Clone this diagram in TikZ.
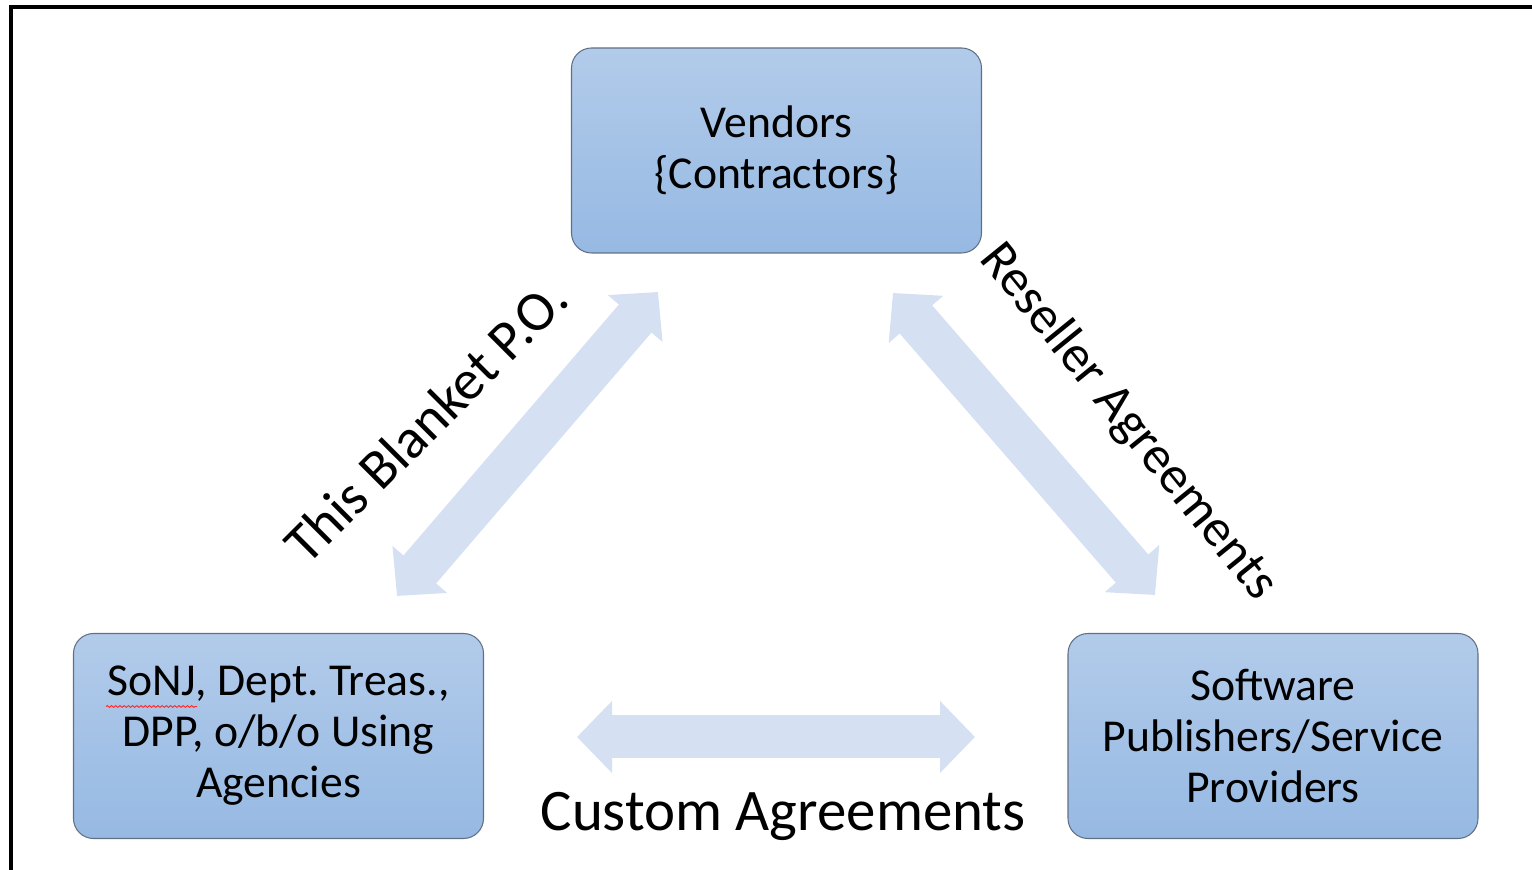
\documentclass[tikz,border=0pt]{standalone}
\usepackage{fontspec}
\setmainfont{Carlito}
\frenchspacing
\usetikzlibrary{arrows.meta,decorations.pathmorphing}

\definecolor{boxtop}{RGB}{178,203,234}
\definecolor{boxbot}{RGB}{150,185,227}
\definecolor{boxline}{RGB}{98,112,132}
\definecolor{flow}{RGB}{213,225,242}

\tikzset{
  party/.style={rectangle, rounded corners=0.4cm, draw=boxline, line width=0.6pt,
    top color=boxtop, bottom color=boxbot, minimum width=8.2cm, minimum height=4.1cm,
    align=center, font=\fontsize{26}{29}\selectfont},
  flowarrow/.style={flow, line width=0.86cm,
    {Triangle[length=7mm 0, width=14mm 0]}-{Triangle[length=7mm 0, width=14mm 0]}},
  deal/.style={font=\fontsize{32}{36}\selectfont}
}

\begin{document}
\begin{tikzpicture}
			\useasboundingbox (0, 0) rectangle (30.64, 17.4);
			\draw [black, line width=2.2pt] (0.22, -1) -- (0.22, 17.26) -- (31, 17.26);

			\node [party] (vendors) at (15.53, 14.39) {Vendors\\\{Contractors\}};
			\node [party] (agency) at (5.57, 2.68) {SoNJ, Dept. Treas.,\\DPP, o/b/o Using\\Agencies};
			\node [party] (publisher) at (25.46, 2.68) {Software\\Publishers/Service\\Providers};

			\coordinate (po-a) at (7.94, 5.48);
			\coordinate (po-b) at (13.16, 11.56);
			\coordinate (rs-a) at (17.86, 11.54);
			\coordinate (rs-b) at (23.10, 5.50);
			\coordinate (cu-a) at (11.54, 2.66);
			\coordinate (cu-b) at (19.50, 2.66);

			\draw [flowarrow] (po-a) -- (po-b);
			\draw [flowarrow] (rs-a) -- (rs-b);
			\draw [flowarrow] (cu-a) -- (cu-b);

			\node [deal, rotate=45] (po) at (8.52, 8.98) {This Blanket P.O.};
			\node [deal, font=\fontsize{30}{34}\selectfont, rotate=-51] (reseller) at (22.56, 8.96) {Reseller Agreements};
			\node [deal, font=\fontsize{33.5}{37}\selectfont] (custom) at (15.66, 1.08) {Custom Agreements};

			\draw [red!85, line width=0.5pt, decorate, decoration={snake, amplitude=0.5pt, segment length=2.4pt}]
				(2.12, 3.27) -- (3.94, 3.27);
		\end{tikzpicture}
\end{document}
